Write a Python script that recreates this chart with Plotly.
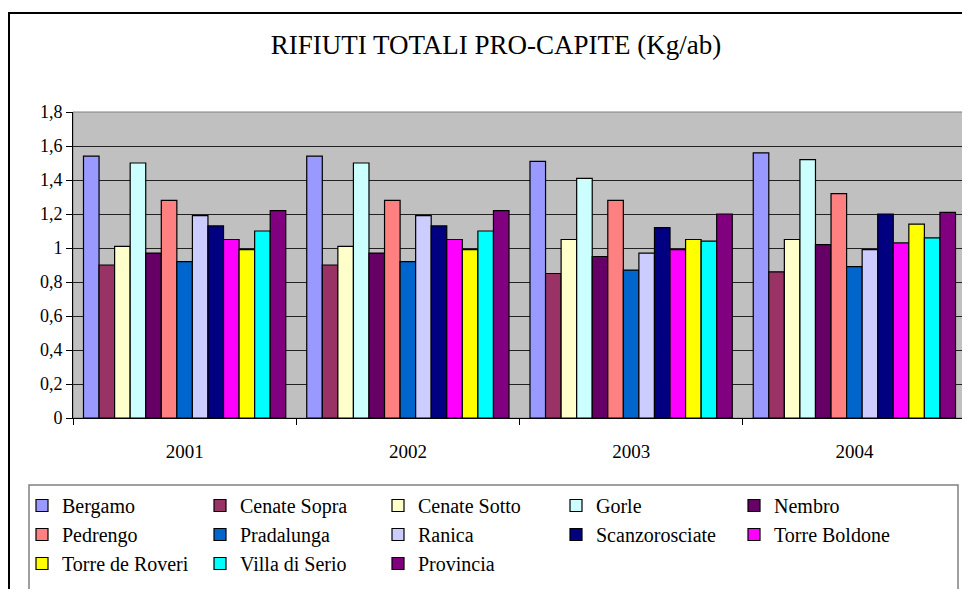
import plotly.graph_objs as go

years = ["2001", "2002", "2003", "2004"]

bergamo = [1.54, 1.54, 1.51, 1.56]
cenate_sopra = [0.90, 0.90, 0.85, 0.86]
cenate_sotto = [1.01, 1.01, 1.05, 1.05]
gorle = [1.50, 1.50, 1.41, 1.52]
nembro = [0.97, 0.97, 0.95, 1.02]
pedrengo = [1.28, 1.28, 1.28, 1.32]
pradalunga = [0.92, 0.92, 0.87, 0.89]
ranica = [1.19, 1.19, 0.97, 0.99]
scanzorosciate = [1.13, 1.13, 1.12, 1.20]
torre_boldone = [1.05, 1.05, 0.99, 1.03]
torre_de_roveri = [0.99, 0.99, 1.05, 1.14]
villa_di_serio = [1.10, 1.10, 1.04, 1.06]
provincia = [1.22, 1.22, 1.20, 1.21]

series = [
    ("Bergamo", bergamo, "#9999FF"),
    ("Cenate Sopra", cenate_sopra, "#993366"),
    ("Cenate Sotto", cenate_sotto, "#FFFFCC"),
    ("Gorle", gorle, "#CCFFFF"),
    ("Nembro", nembro, "#660066"),
    ("Pedrengo", pedrengo, "#FF8080"),
    ("Pradalunga", pradalunga, "#0066CC"),
    ("Ranica", ranica, "#CCCCFF"),
    ("Scanzorosciate", scanzorosciate, "#000080"),
    ("Torre Boldone", torre_boldone, "#FF00FF"),
    ("Torre de Roveri", torre_de_roveri, "#FFFF00"),
    ("Villa di Serio", villa_di_serio, "#00FFFF"),
    ("Provincia", provincia, "#800080"),
]

font = "Liberation Serif"

traces = []
for name, vals, color in series:
    traces.append(go.Bar(
        x=years,
        y=vals,
        name=name,
        marker=dict(color=color, line=dict(color="black", width=1.2)),
    ))

# the page puts the figure 8px in from the top left corner,
# so the figure is 8px smaller and everything is placed 8px up/left
W, H = 962, 581
L, R, T, B = 65, 4, 104, 171
pw = W - L - R
ph = H - T - B


def px(x):
    return (x - L) / pw


def py(y):
    return (H - B - y) / ph


layout = go.Layout(
    width=W,
    height=H,
    margin=dict(l=L, r=R, t=T, b=B),
    paper_bgcolor="white",
    plot_bgcolor="#C0C0C0",
    separators=",.",
    font=dict(family=font, color="black", size=17),
    title=dict(
        text="RIFIUTI TOTALI PRO-CAPITE (Kg/ab)",
        x=488 / W, xref="container", xanchor="center",
        y=1 - 37 / H, yanchor="middle",
        font=dict(family=font, size=27, color="black"),
    ),
    barmode="group",
    bargap=0.094,
    bargroupgap=0,
    xaxis=dict(
        type="category",
        tickson="boundaries",
        ticks="outside",
        ticklen=6,
        tickcolor="black",
        showline=True,
        linecolor="black",
        linewidth=1,
        showgrid=False,
        tickfont=dict(family=font, size=19),
        ticklabelstandoff=16,
    ),
    yaxis=dict(
        range=[0, 1.8],
        dtick=0.2,
        ticks="outside",
        ticklen=6,
        tickcolor="black",
        showline=True,
        linecolor="black",
        linewidth=1,
        showgrid=True,
        gridcolor="#222222",
        gridwidth=1,
        zeroline=False,
        tickfont=dict(family=font, size=18),
    ),
    legend=dict(
        orientation="h",
        x=px(14),
        xanchor="left",
        y=py(478),
        yanchor="top",
        borderwidth=0,
        bgcolor="rgba(0,0,0,0)",
        entrywidth=133,
        entrywidthmode="pixels",
        itemwidth=30,
        traceorder="normal",
        font=dict(family=font, size=20),
    ),
    shapes=[
        # plot area frame (gray top/right)
        dict(type="rect", xref="paper", yref="paper", x0=0, x1=1, y0=0, y1=1,
             line=dict(color="#808080", width=1), layer="below"),
        # legend box
        dict(type="rect", xref="paper", yref="paper",
             x0=px(21), x1=px(950), y0=py(600), y1=py(477),
             line=dict(color="#808080", width=1.5)),
        # outer chart frame
        dict(type="rect", xref="paper", yref="paper",
             x0=px(1), x1=px(1000), y0=py(620), y1=py(5),
             line=dict(color="black", width=2)),
    ],
)

fig = go.Figure(data=traces, layout=layout)
fig.write_html("out.html")
